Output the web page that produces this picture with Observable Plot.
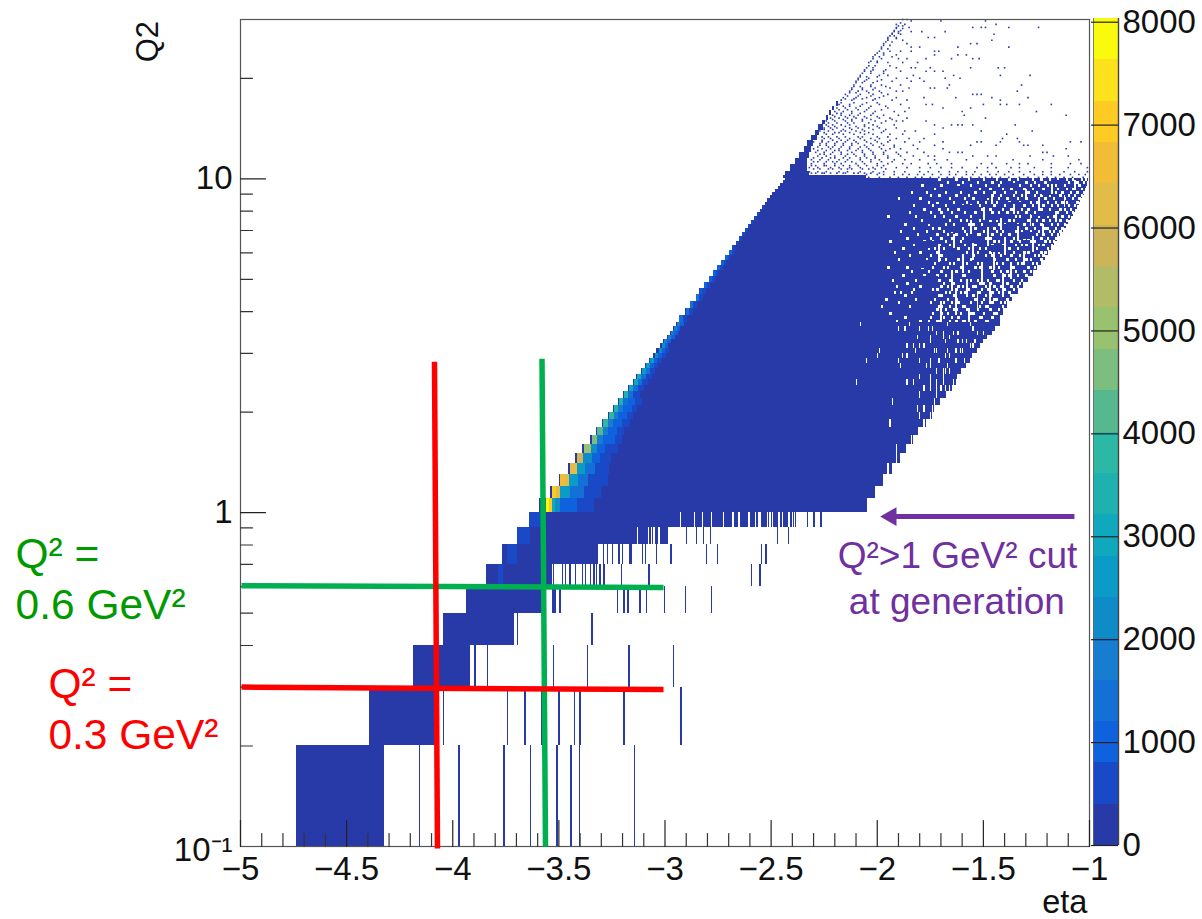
<!DOCTYPE html>
<html><head><meta charset="utf-8">
<script src="https://cdn.jsdelivr.net/npm/d3@7"></script>
<script src="https://cdn.jsdelivr.net/npm/@observablehq/plot@0.6"></script>
<style>html,body{margin:0;background:#fff;overflow:hidden}#c{position:relative;width:1202px;height:919px}#c svg{position:absolute;left:0;top:0;background:transparent}</style>
</head><body><div id="c"></div>
<script>
const FONT = "Liberation Sans";
// colour palette of the z axis
const bandEdges = [402,804,1205,1607,2009,2411,2813,3214,3616,4018,4420,4822,5223,5625,6027,6429,6831,7232,7634];
const bandColors = ["#283aa7","#1a49c8","#0f62dd","#1270d6","#167dd0","#0f8bc8","#0a9cc6","#10a8bc","#1fb0b0","#2db8a6","#55b88f","#7cbe80","#98c170","#b2bb65","#cdb458","#e2bc48","#f2bd36","#fdcb24","#fce21c","#fafa0c"];
const zMax = 8036;
const zTicks = [0,1000,2000,3000,4000,5000,6000,7000,8000];
const xMajor = [-5,-4.5,-4,-3.5,-3,-2.5,-2,-1.5,-1];
const xMinor = [-4.9,-4.8,-4.7,-4.6,-4.4,-4.3,-4.2,-4.1,-3.9,-3.8,-3.7,-3.6,-3.4,-3.3,-3.2,-3.1,-2.9,-2.8,-2.7,-2.6,-2.4,-2.3,-2.2,-2.1,-1.9,-1.8,-1.7,-1.6,-1.4,-1.3,-1.2,-1.1];
const yMajor = [1,10];
const yMinor = [0.2,0.3,0.4,0.5,0.6,0.7,0.8,0.9,2,3,4,5,6,7,8,9,20];

// filled body of the histogram: [Q2 low, Q2 high, eta*100 left, eta*100 right]
const bodyLow = [[.1,.2,-473.6,-432.2],[.2,.3,-439.2,-408.1],[.3,.4,-418.7,-391.6],[.4,.5,-404.4,-370.9],[.5,.6,-393.5,-357.7],[.6,.7,-384.1,-353],[.7,.8,-376.6,-331.3],[.8,.9,-369.7,-298.4],[.9,1,-364,-238]];
const bodyMid = [[1,1.1,-359.1,-204.6],[1.1,1.2,-353.9,-200.4],[1.2,1.3,-349.7,-197],[1.3,1.4,-345.5,-192.8],[1.4,1.5,-342.2,-189],[1.5,1.6,-338.9,-186.2],[1.6,1.7,-335.1,-182.5],[1.7,1.8,-332.3,-180.6],[1.8,1.9,-329.4,-176.8],[1.9,2,-326.6,-174],[2,2.1,-324.3,-173],[2.1,2.2,-321.9,-169.3],[2.2,2.3,-319.6,-167.4],[2.3,2.4,-317.2,-164.5],[2.4,2.5,-314.8,-162.7],[2.5,2.6,-313.4,-162.2],[2.6,2.7,-311.1,-160.3],[2.7,2.8,-309.2,-158],[2.8,2.9,-307.3,-156],[2.9,3,-305.4,-154.7],[3,3.1,-304,-152.8],[3.1,3.2,-302.1,-151.4],[3.2,3.3,-300.7,-150],[3.3,3.4,-298.8,-148],[3.4,3.5,-297.4,-145.7],[3.5,3.6,-296,-144.3],[3.6,3.7,-294.6,-142]];
const bodyHigh = [[3.7,3.9,-293.2,-142],[3.9,4.1,-290.3,-140.5],[4.1,4.3,-288,-138.6],[4.3,4.5,-285.2,-136.3],[4.5,4.7,-283.7,-133.5],[4.7,4.9,-281.4,-131.1],[4.9,5.1,-279,-128.8],[5.1,5.3,-277.1,-126.4],[5.3,5.5,-275.3,-124.5],[5.5,5.7,-273.4,-122.6],[5.7,5.9,-271.5,-120.8],[5.9,6.1,-269.6,-119.3],[6.1,6.3,-268.2,-117.9],[6.3,6.5,-266.3,-116.5],[6.5,6.7,-264.9,-115.1],[6.7,6.9,-263.5,-113.7],[6.9,7.1,-262.1,-112.3],[7.1,7.3,-260.7,-110.8],[7.3,7.5,-259.2,-109.8],[7.5,7.7,-257.8,-108.5],[7.7,7.9,-256.4,-107.5],[7.9,8.1,-255,-106.6],[8.1,8.3,-254,-105.6],[8.3,8.5,-252.7,-104.7],[8.5,8.7,-251.7,-104.3],[8.7,8.9,-250.3,-103.3],[8.9,9.1,-249.4,-102.4],[9.1,9.3,-247.9,-101.9],[9.3,9.5,-246.5,-101.4],[9.5,9.7,-245.6,-100.9],[9.7,9.9,-244.2,-100.5],[9.9,10,-243.2,-100]];
const bodyWedge = [[10,10.2,-244,-205],[10.2,10.5,-243,-232],[10.5,11,-241,-233],[11,11.5,-238.5,-233],[11.5,12,-236.5,-232],[12,12.5,-234.5,-231],[12.5,13,-233,-230],[13,13.5,-231,-228],[13.5,14,-229,-227],[14,14.5,-227.5,-225.5],[14.5,15,-226,-224.5],[15,15.5,-224,-223],[15.5,16,-222.5,-221.5],[16,16.5,-221,-220],[16.5,17,-219,-218.2]];

// the bright ridge on the left edge: [Q2 low, eta*100 from, eta*100 to, count]
const ridge = [
[.6,-378.6,-376.3,700],[.7,-374,-369.7,700],[.8,-369.7,-363.4,700],[.9,-364,-357.9,700],
[1,-356,-354.5,7900],[1,-354.5,-353,7000],[1,-353,-351.5,3200],[1,-351.5,-349,2200],[1,-349,-341,1200],[1,-341,-333,700],
[1.1,-353,-351,7000],[1.1,-351,-349,6400],[1.1,-349,-344.5,2800],[1.1,-344.5,-338,1300],[1.1,-338,-330,700],
[1.2,-349,-347,6500],[1.2,-347,-345,6200],[1.2,-345,-340.6,2700],[1.2,-340.6,-336,1300],[1.2,-336,-326.5,700],
[1.3,-344.5,-341,6200],[1.3,-341,-337.5,2600],[1.3,-337.5,-332.8,1300],[1.3,-332.8,-326,700],
[1.4,-341.4,-338.3,5800],[1.4,-338.3,-334.3,2300],[1.4,-334.3,-330.4,1200],[1.4,-330.4,-325,600],
[1.5,-338,-334.8,5200],[1.5,-334.8,-332,2200],[1.5,-332,-328,1200],[1.5,-328,-321.8,600],
[1.6,-334.3,-331.7,4600],[1.6,-331.7,-328.9,2000],[1.6,-328.9,-323.4,1100],[1.6,-323.4,-320.2,600],
[1.7,-331.7,-329.2,4300],[1.7,-329.2,-326.5,1900],[1.7,-326.5,-322.6,1100],[1.7,-322.6,-319.1,600],
[1.8,-328.9,-326.5,3900],[1.8,-326.5,-324.1,1800],[1.8,-324.1,-320.2,1000],[1.8,-320.2,-316.3,500],
[1.9,-326,-323.8,3700],[1.9,-323.8,-321.8,1700],[1.9,-321.8,-317.9,1000],[1.9,-317.9,-314.7,500],
[2,-323.8,-321.8,3500],[2,-321.8,-319.4,1700],[2,-319.4,-315.5,900],[2,-315.5,-313.1,500],
[2.1,-321.3,-319.4,3400],[2.1,-319.4,-317,1600],[2.1,-317,-313.9,900],[2.1,-313.9,-310.8,500],
[2.2,-319,-317,3300],[2.2,-317,-314.7,1500],[2.2,-314.7,-311.6,800],
[2.3,-316.8,-314.7,3200],[2.3,-314.7,-312.7,1500],[2.3,-312.7,-309.7,800],
[2.4,-314.4,-312.7,3000],[2.4,-312.7,-310.8,1400],[2.4,-310.8,-307.7,800],
[2.5,-312.8,-311.3,2900],[2.5,-311.3,-308.8,1300],[2.5,-308.8,-306,700],
[2.6,-310.6,-308.8,2800],[2.6,-308.8,-306.9,1300],[2.6,-306.9,-304.5,700],
[2.7,-308.8,-306.9,2600],[2.7,-306.9,-305,1200],[2.7,-305,-303,700],
[2.8,-306.7,-305,2500],[2.8,-305,-303.4,1200],[2.8,-303.4,-301.4,600],
[2.9,-304.7,-303,2400],[2.9,-303,-301.4,1100],[2.9,-301.4,-299.3,600],
[3,-302.8,-301.4,2200],[3,-301.4,-299.8,1100],[3,-299.8,-297.8,600],
[3.1,-301.2,-299.8,2100],[3.1,-299.8,-298.2,1000],
[3.2,-300.2,-298.7,2000],[3.2,-298.7,-297,1000],[3.3,-298.3,-296.8,1900],[3.3,-296.8,-295,1000],
[3.4,-297,-295.5,1800],[3.4,-295.5,-293.8,900],[3.5,-295.5,-294,1800],[3.5,-294,-292.5,900],
[3.6,-294.2,-292.8,1700],[3.6,-292.8,-291,900],[3.7,-293,-291.4,1600],[3.7,-291.4,-289.5,800],
[3.9,-290,-288.6,1500],[3.9,-288.6,-286.8,800],[4.1,-287.8,-286.4,1400],[4.1,-286.4,-284.8,800],
[4.3,-285,-283.6,1300],[4.3,-283.6,-282,800],[4.5,-283.5,-282.1,1200],[4.5,-282.1,-280.5,700],
[4.7,-281.2,-279.8,1200],[4.7,-279.8,-278.4,700],[4.9,-278.8,-277.4,1100],[4.9,-277.4,-276,700],
[5.1,-277,-275.6,1100],[5.1,-275.6,-274.4,600],[5.3,-275.2,-273.8,1000],[5.3,-273.8,-272.6,600],
[5.5,-273.3,-272,1000],[5.5,-272,-270.8,600],[5.7,-271.4,-270,900],[5.7,-270,-269,500],
[5.9,-269.5,-268.2,900],[5.9,-268.2,-267.2,500],[6.1,-268.1,-266.8,800],[6.3,-266.2,-265,800],
[6.5,-264.8,-263.6,800],[6.7,-263.4,-262.2,700],[6.9,-262,-260.8,700],[7.1,-260.6,-259.6,700],
[7.3,-259.1,-258.2,600],[7.5,-257.7,-256.8,600],[7.7,-256.3,-255.4,500],[7.9,-254.9,-254,500],[8.1,-253.9,-253,500]];

// isolated blue bins under Q2 = 1: [Q2 low, eta*100 ...]
const sticksBlue = [
[.1,-415.7,-397.2,-376,-363.4,-351,-344.3,-340.3,-314.4],
[.2,-404.5,-374.4,-366.1,-358.2,-350,-342.7,-340.2,-319.5,-292.8,-292.3],
[.3,-389.6,-383.8,-352.7,-336.7,-317,-296],
[.4,-369.5,-334.4],
[.5,-353.2,-352.4,-351.6,-349.6,-322.6,-319.5,-317.6,-312,-308.8,-300.3,-290.4,-278.2],
[.6,-352.7,-348.5,-346.9,-344.9,-342.2,-339,-337.5,-335.2,-333.5,-332.3,-330.7,-328.8,-320.5,-307.6,-259.3,-255.3],
[.7,-329,-327.2,-324.9,-321.8,-320.2,-316.7,-316,-310.8,-309.2,-304.2,-297.4,-280.5,-275.4,-254.7,-252.5],
[.8,-290,-285.2,-282,-278.6,-247,-242],
[.9,-232.9,-230,-226.7]];
// white gaps inside the body: [Q2 low, eta*100 ...]
const gapsLow = [
[.4,-370.5],
[.7,-330.5],
[.8,-313,-308,-306.5,-305.3,-302.9],
[.9,-292.7,-286.1,-282.5,-278.3,-272.6,-268,-265.2,-260.5,-257.4,-255.8,-255,-251.9,-250.6,-249.5,-246.4,-244.8,-241.7,-240,-239],
[1.1,-201],[1.3,-195],[1.4,-191],[1.5,-191],[1.6,-184,-183],[1.8,-194,-178],[1.9,-180,-175],
[2,-181,-178,-174],[2.1,-193,-173,-170],[2.2,-180,-172],[2.3,-178,-175,-172,-170,-168,-166],
[2.4,-210,-186,-183,-175,-172,-169,-164],[2.5,-180,-175,-169],[2.6,-172,-169,-168,-166],
[2.7,-189,-177,-175,-167],[2.8,-205,-190,-180,-175,-171,-163,-159],[2.9,-200,-188,-186,-168,-166,-155],
[3,-199,-182,-173,-172,-167,-163,-161,-160],[3.1,-186,-183,-180,-178,-156,-155],
[3.2,-175,-168,-162,-160,-158,-154],[3.3,-181,-175,-169,-166],[3.4,-172,-169,-164,-162,-153,-150],
[3.5,-190,-187,-180,-176,-174,-155],[3.6,-208,-185,-167,-156]];
// speckle of empty bins in the upper right of the body
const gapsHigh = [
[3.7,-191,-180,-176,-172,-171,-166,-163,-160,-159,-154,-149,-148],
[3.8,-187,-178,-175,-169,-165,-162,-157,-152,-151,-146],
[3.9,-194,-183,-174,-170,-167,-161,-156,-155,-150,-145,-144],
[4,-181,-177,-172,-168,-164,-163,-158,-153,-147,-143],
[4.1,-198,-185,-171,-170,-166,-160,-159,-152,-149,-148,-141],
[4.2,-190,-175,-169,-165,-162,-156,-151,-146,-142,-140],
[4.3,-196,-182,-173,-167,-163,-158,-157,-154,-150,-145,-144,-139],
[4.4,-187,-178,-171,-170,-164,-160,-155,-149,-147,-141,-137],
[4.5,-192,-189,-184,-176,-168,-166,-161,-159,-153,-152,-146,-143,-138],
[4.6,-183,-174,-172,-165,-163,-157,-151,-148,-144,-140,-136],
[4.7,-191,-180,-170,-167,-162,-160,-155,-154,-149,-145,-142,-137,-134],
[4.8,-186,-177,-173,-169,-164,-158,-152,-150,-147,-141,-139,-133],
[4.9,-193,-182,-175,-171,-166,-161,-156,-153,-148,-144,-143,-136,-132],
[5.05,-188,-178,-172,-168,-165,-160,-159,-151,-149,-145,-140,-138,-134,-130],
[5.2,-184,-176,-170,-163,-157,-155,-150,-146,-142,-139,-135,-131,-128],
[5.35,-195,-186,-179,-174,-169,-167,-161,-154,-152,-147,-143,-137,-136,-129,-126],
[5.5,-181,-173,-166,-164,-158,-153,-148,-144,-141,-134,-132,-127,-125],
[5.65,-190,-177,-171,-168,-162,-156,-151,-150,-145,-139,-135,-130,-128,-123],
[5.8,-185,-175,-170,-163,-160,-155,-149,-146,-142,-137,-133,-126,-124,-122],
[5.95,-192,-180,-172,-167,-165,-158,-153,-147,-143,-140,-136,-131,-129,-123,-121],
[6.1,-188,-176,-173,-169,-162,-157,-152,-149,-144,-138,-134,-127,-125,-120],
[6.25,-183,-171,-166,-164,-159,-154,-148,-146,-141,-135,-132,-130,-124,-122,-118],
[6.4,-194,-178,-174,-168,-161,-156,-151,-145,-143,-137,-133,-128,-126,-121,-119,-117],
[6.55,-186,-175,-170,-165,-160,-155,-149,-147,-140,-136,-131,-129,-123,-120,-116],
[6.7,-181,-172,-167,-163,-158,-153,-152,-146,-142,-138,-134,-127,-125,-122,-118,-115],
[6.85,-189,-177,-169,-165,-159,-156,-150,-144,-141,-135,-132,-128,-124,-119,-117,-114,-112],
[7,-183,-174,-171,-162,-160,-154,-148,-145,-139,-137,-130,-126,-121,-120,-116,-113],
[7.2,-187,-176,-168,-164,-157,-155,-151,-143,-140,-134,-131,-127,-123,-118,-115,-112,-110],
[7.4,-179,-172,-166,-161,-158,-152,-147,-144,-138,-136,-129,-125,-122,-119,-114,-111,-109],
[7.6,-195,-182,-173,-169,-163,-156,-150,-148,-142,-135,-133,-128,-124,-120,-117,-113,-110,-107],
[7.8,-185,-175,-170,-165,-159,-154,-146,-143,-139,-134,-130,-126,-121,-116,-115,-111,-108,-106],
[8,-178,-171,-167,-162,-157,-151,-147,-141,-137,-132,-129,-123,-119,-114,-112,-109,-105],
[8.2,-183,-174,-168,-160,-156,-152,-145,-140,-136,-131,-127,-122,-118,-115,-110,-107,-104],
[8.4,-176,-172,-164,-158,-153,-149,-144,-138,-133,-128,-125,-120,-116,-113,-111,-106,-104],
[8.6,-190,-180,-169,-166,-159,-155,-148,-143,-139,-134,-130,-124,-121,-117,-112,-108,-105,-103],
[8.8,-175,-171,-163,-157,-151,-146,-142,-136,-132,-126,-123,-119,-114,-110,-107,-104,-102],
[9,-184,-177,-168,-161,-154,-150,-145,-140,-135,-129,-125,-121,-116,-113,-109,-106,-103],
[9.2,-173,-165,-159,-152,-147,-141,-137,-131,-127,-122,-118,-115,-111,-108,-104,-102],
[9.4,-179,-170,-162,-156,-149,-143,-139,-133,-128,-124,-120,-116,-112,-107,-105,-101],
[9.6,-167,-160,-153,-146,-142,-136,-130,-126,-121,-117,-113,-110,-106,-103,-101],
[9.8,-171,-163,-157,-150,-144,-138,-134,-127,-123,-119,-115,-111,-108,-104,-102,-100.6]];
// filled clumps inside the speckle: [Q2 low, Q2 high, eta*100 left, eta*100 right]
const clumps = [[3.8,4.1,-183,-176],[4.3,4.7,-180,-174],[4.2,4.5,-161,-156],[4.8,5.1,-178,-171],[5,5.3,-155,-148],[5.4,5.7,-183,-175],[5.5,5.8,-152,-146],[5.8,6.1,-167,-160],[6,6.3,-146,-140],[6.2,6.5,-180,-173],[6.4,6.7,-157,-150],[6.6,6.9,-132,-126],[6.9,7.2,-168,-161],[7,7.3,-140,-133],[7.3,7.6,-178,-170],[7.5,7.8,-148,-141],[7.7,8,-125,-119],[8,8.3,-160,-153],[8.2,8.5,-138,-131],[8.5,8.8,-175,-167],[8.7,9,-153,-146],[8.9,9.2,-122,-116],[9.2,9.5,-165,-157],[9.4,9.7,-141,-134],[9.6,9.9,-118,-112]];
// vertical white streaks inside the speckle: [Q2 low, Q2 high, eta*100]
const streaks = [[3.7,4.3,-170],[3.9,4.6,-163],[3.7,4.1,-157],[4,4.5,-153],[4.2,4.8,-147],[4.4,5,-158],[4.5,5.2,-141],[4.7,5.3,-165],[4.8,5.6,-151],[5,5.6,-137],[5.2,5.9,-160],[5.3,6,-145],[5.5,6,-131],[5.6,6.3,-171],[5.7,6.4,-155],[5.9,6.6,-140],[6,6.7,-127],[6.2,6.8,-164],[6.3,7,-148],[6.5,7.2,-134],[6.7,7.3,-122],[6.8,7.5,-156],[7,7.6,-142],[7.2,7.8,-128],[7.4,8,-116],[7.5,8.2,-150],[7.8,8.4,-136],[8,8.6,-124],[8.2,8.9,-112],[8.4,9,-146],[8.7,9.3,-130],[9,9.6,-118],[9.2,9.9,-107]];
// scattered bins above Q2 = 10: [Q2, eta*100 ...]
const scatter = [
[30,-188,-186],[29.7,-170,-149,-184],[29,-191,-187,-144],[28.4,-191,-185,-155,-151,-149,-138,-124],
[27.6,-192,-190,-184,-179,-168],[27.1,-193,-145,-189],[26.5,-195,-191,-176,-173],[26,-195,-188,-146],
[25.4,-153,-156,-197,-186],[24.8,-162,-138,-198,-184,-180],[24.1,-199,-194,-173,-171,-184,-189],
[23.5,-201,-197,-173,-162,-158,-191],[22.9,-202,-198,-165,-155,-152,-186,-177,-190],[22.3,-204,-200,-195,-181,-188],
[21.5,-205,-202,-191,-182,-175,-156,-143,-140,-184],[21,-206,-203,-197,-177,-173,-169,-189],
[20.4,-208,-199,-195,-183,-142,-128,-164],[20,-209,-204,-191,-186,-168,-161,-180],[19.6,-210,-206,-200,-193,-184,-178],
[19.1,-211,-203,-198,-166,-132,-189],[18.7,-212,-207,-201,-194,-175,-173,-167,-185],[18.3,-213,-209,-205,-191,-134,-199,-188],
[17.9,-215,-208,-202,-195,-155,-151,-153],[17.5,-216,-210,-205,-199,-191,-178,-146,-163,-129],[17.2,-217,-212,-202,-193,-186,-142],
[16.7,-218,-213,-207,-199,-189,-142,-150,-139,-133,-174,-177,-118],[16.3,-219,-215,-210,-204,-195,-185,-169,-156],
[15.9,-220,-216,-212,-206,-201,-192,-187,-125,-160],[15.5,-221,-217,-213,-209,-203,-197,-190,-111,-159],
[15.2,-222,-218,-214,-210,-205,-199,-194,-186,-149],[14.9,-224,-220,-215,-212,-207,-201,-196,-191,-177,-188],
[14.5,-224,-221,-217,-213,-206,-202,-192,-135,-155,-162,-165,-160,-173],[14.2,-225,-222,-219,-213,-209,-204,-199,-191,-169],
[13.9,-227,-223,-217,-215,-210,-206,-197,-187,-182,-151,-127],[13.6,-228,-224,-221,-216,-211,-206,-202,-194,-188,-173,-139],
[13.2,-229,-225,-222,-218,-213,-208,-203,-199,-191,-185,-178,-141,-134],
[12.9,-230,-226,-223,-219,-215,-210,-205,-200,-195,-187,-180,-169,-153,-151,-142,-133,-109,-104],
[12.6,-231,-227,-224,-220,-216,-212,-206,-202,-197,-192,-183,-173,-122,-129,-131,-144,-156],
[12.3,-230,-226,-222,-218,-213,-209,-204,-198,-194,-189,-181,-169,-111],
[12,-229,-225,-221,-217,-212,-207,-202,-197,-191,-186,-178,-166,-162,-160,-120,-122],
[11.7,-228,-224,-220,-215,-210,-206,-201,-195,-189,-183,-176,-173,-155,-148,-144,-128,-117,-110],
[11.4,-231,-227,-223,-218,-214,-208,-203,-199,-192,-187,-180,-173,-167,-158,-136,-122,-105],
[11.1,-231,-225,-220,-217,-210,-206,-200,-195,-188,-184,-176,-172,-165,-151,-146,-139,-133,-129,-118,-109,-104],
[10.8,-232,-228,-222,-218,-213,-208,-202,-198,-191,-186,-180,-175,-170,-165,-160,-153,-148,-144,-137,-133,-126,-118,-110,-101],
[10.5,-232,-228,-224,-218,-214,-208,-202,-197,-192,-187,-180,-176,-171,-166,-162,-158,-154,-148,-143,-138,-133,-128,-122,-118,-112,-107,-101],
[10.3,-205,-200,-197,-192,-188,-185,-181,-178,-174,-170,-166,-163,-158,-155,-151,-147,-144,-140,-136,-131,-126,-122,-118,-114,-109,-105,-102],
[10.1,-204,-199,-194,-190,-186,-182,-179,-175,-171,-167,-164,-160,-156,-152,-149,-146,-142,-138,-133,-129,-124,-120,-116,-112,-108,-103]];
// the dense band of bins along the upper-left edge
const scatterEdge = [
[10.4,-231,-229,-226,-225,-222,-219,-216,-215,-211,-209,-206,-203,-199],[10.7,-230,-227,-223,-221,-217,-214,-212,-207,-204,-201,-196],
[10.95,-231,-229,-225,-224,-220,-216,-213,-209,-205,-200,-197],[11.25,-230,-228,-224,-221,-219,-215,-212,-207,-203,-198,-193],
[11.55,-230,-226,-222,-220,-216,-213,-208,-205,-201,-195],[11.85,-227,-225,-222,-217,-214,-211,-206,-202,-197,-190],
[12.15,-228,-224,-220,-218,-214,-210,-207,-203,-196],[12.45,-228,-223,-221,-217,-213,-208,-205,-199,-192],
[12.75,-227,-224,-220,-216,-212,-209,-203,-198],[13.05,-226,-221,-217,-214,-211,-206,-201,-194],
[13.35,-226,-223,-219,-215,-209,-207,-200,-195],[13.75,-225,-220,-218,-213,-208,-204,-198],
[14.05,-225,-221,-216,-212,-207,-202,-196],[14.35,-223,-220,-215,-210,-206,-200],[14.7,-223,-219,-214,-211,-204,-198],
[15.05,-221,-216,-212,-207,-203,-193],[15.35,-220,-215,-211,-206,-200],[15.7,-219,-217,-212,-208,-202],[16.1,-218,-214,-209,-205,-198],
[16.5,-216,-213,-208,-203,-196],[16.9,-217,-211,-205,-200],[17.35,-215,-211,-207,-201],[17.7,-214,-209,-203,-197],[18.1,-213,-210,-204,-198],
[18.5,-212,-207,-202],[18.9,-211,-208,-203,-196],[19.4,-210,-207,-202],[19.8,-209,-205,-198],[20.2,-208,-205,-200],[20.7,-207,-203,-197],
[21.2,-206,-202,-196],[21.8,-204,-201,-194],[22.5,-203,-200],[23.2,-202,-199,-193],[23.8,-200,-197],[24.5,-198,-195],[25.1,-197,-194],
[25.7,-196,-193],[26.3,-195,-191],[26.8,-194,-192],[27.3,-193,-190],[27.8,-192,-189],[28.2,-191,-188],[28.7,-190,-188],[29.3,-189]];

// annotation lines drawn over the histogram
const greenV = {x1:-3.5795,y1:2.89,x2:-3.563,y2:.1}, redV = {x1:-4.086,y1:2.83,x2:-4.072,y2:.0987};
const greenH = {x1:-4.995,y1:.6045,x2:-3.007,y2:.5964}, redH = {x1:-4.995,y1:.3003,x2:-3.007,y2:.2951};
const arrowStem = {x1:-1.071,y1:.973,x2:-1.92,y2:.973}, arrowHead = {x:-1.935,y:.973};
const notesLeft = [
 {x:-6.06,y:.684,t:"Q² =",c:"#009a00"},{x:-6.06,y:.4816,t:"0.6 GeV²",c:"#009a00"},
 {x:-5.905,y:.2794,t:"Q² =",c:"#ff0000"},{x:-5.905,y:.1965,t:"0.3 GeV²",c:"#ff0000"}];
const notesRight = [
 {x:-1.622,y:.684,t:"Q²>1 GeV² cut"},{x:-1.625,y:.4985,t:"at generation"}];

const colorOpts = {type:"threshold",domain:bandEdges,range:bandColors};
const tickShape = {draw(c,l){c.moveTo(0,0);c.lineTo(0,-l);}};
const toE = e => e/100;
const toCell = ([lo,hi,l,r])=>({lo,hi,l:toE(l),r:toE(r),c:100});
const bodyAll = [...bodyLow,...bodyMid,...bodyHigh,...bodyWedge].map(toCell);
const ridgeCells = ridge.map(([q,a,b,c])=>({lo:q,hi:q+(q<3.7?.1:.2),l:toE(a),r:toE(b),c}));
const flat = (rows,w,h) => rows.flatMap(([q,...es])=>es.map(e=>({lo:q,hi:h(q),l:toE(e),r:toE(e+w),c:100})));
const sticks = flat(sticksBlue,.7,q=>q+.1);
const gaps = [...flat(gapsLow,.6,q=>q+.1),...flat(gapsHigh,1.1,q=>q*1.02)];
const clumpCells = clumps.map(toCell);
const streakCells = streaks.map(([lo,hi,e])=>toCell([lo,hi,e,e+.9]));
const dots = [...scatter,...scatterEdge].flatMap(([q,...es])=>es.map(e=>({x:toE(e),y:q})));
const rectOpts = {x1:"l",x2:"r",y1:"lo",y2:"hi",shapeRendering:"crispEdges"};

const main = Plot.plot({
  width:1202,height:919,marginLeft:240,marginRight:113,marginTop:19,marginBottom:73,
  style:{fontFamily:FONT,background:"transparent",overflow:"visible"},
  x:{domain:[-5,-1]},
  y:{type:"log",domain:[.1,30]},
  color:colorOpts,
  marks:[
    Plot.rect(bodyAll,{...rectOpts,fill:"c"}),
    Plot.rect(ridgeCells,{...rectOpts,fill:"c"}),
    Plot.rect(sticks,{...rectOpts,fill:"c"}),
    Plot.rect(gaps,{...rectOpts,fill:"white"}),
    Plot.rect(clumpCells,{...rectOpts,fill:"c"}),
    Plot.rect(streakCells,{...rectOpts,fill:"white"}),
    Plot.dot(dots,{x:"x",y:"y",r:.9,symbol:"square",fill:bandColors[0]}),
    Plot.frame({stroke:"#555",strokeWidth:1.2}),
    Plot.vector(xMajor,{x:d=>d,y:()=>.1,length:26,rotate:0,anchor:"start",shape:tickShape,stroke:"#222",strokeWidth:1.2}),
    Plot.vector(xMinor,{x:d=>d,y:()=>.1,length:13,rotate:0,anchor:"start",shape:tickShape,stroke:"#333",strokeWidth:1.2}),
    Plot.vector(yMajor,{x:()=>-5,y:d=>d,length:25,rotate:90,anchor:"start",shape:tickShape,stroke:"#222",strokeWidth:1.2}),
    Plot.vector(yMinor,{x:()=>-5,y:d=>d,length:12,rotate:90,anchor:"start",shape:tickShape,stroke:"#333",strokeWidth:1.2}),
    Plot.axisX({ticks:xMajor,tickSize:0,tickPadding:10,label:null,fontSize:33,tickFormat:d3.format("~g"),fill:"#111"}),
    Plot.axisY({ticks:yMajor,tickSize:0,tickPadding:8,label:null,fontSize:33,tickFormat:d=>String(d),fill:"#111"}),
    Plot.axisY({ticks:[.1],tickSize:0,tickPadding:8,dy:4,label:null,fontSize:33,tickFormat:()=>"10⁻¹",fill:"#111"}),
    Plot.text(["eta"],{x:()=>-1.01,y:()=>.063,textAnchor:"end",lineAnchor:"bottom",fontSize:32.5,fill:"#111"}),
    Plot.text(["Q2"],{x:()=>-5.391,y:()=>29.7,rotate:-90,textAnchor:"end",lineAnchor:"bottom",fontSize:31,fill:"#111"}),
    Plot.link([greenV,greenH],{x1:"x1",y1:"y1",x2:"x2",y2:"y2",stroke:"#00b050",strokeWidth:5.5}),
    Plot.link([redV,redH],{x1:"x1",y1:"y1",x2:"x2",y2:"y2",stroke:"#ff0000",strokeWidth:5.5}),
    Plot.link([arrowStem],{x1:"x1",y1:"y1",x2:"x2",y2:"y2",stroke:"#7030a0",strokeWidth:5}),
    Plot.dot([arrowHead],{x:"x",y:"y",symbol:"triangle2",rotate:-90,r:9,fill:"#7030a0"}),
    Plot.text(notesLeft,{x:"x",y:"y",text:"t",fill:"c",fontSize:42.5,textAnchor:"start",lineAnchor:"bottom"}),
    Plot.text(notesRight,{x:"x",y:"y",text:"t",fill:"#7030a0",fontSize:37,textAnchor:"middle",lineAnchor:"bottom"})
  ]
});

const bandLo = [0,...bandEdges];
const bandHi = [...bandEdges,zMax];
const barCells = bandLo.map((lo,i)=>({lo,hi:bandHi[i],c:lo+1}));
const bar = Plot.plot({
  width:1202,height:919,marginLeft:1093,marginRight:84,marginTop:18,marginBottom:74,
  style:{fontFamily:FONT,background:"transparent",overflow:"visible"},
  x:{axis:null,domain:[0,1]},
  y:{domain:[0,zMax]},
  color:colorOpts,
  marks:[
    Plot.rect(barCells,{x1:()=>0,x2:()=>1,y1:"lo",y2:"hi",fill:"c",shapeRendering:"crispEdges"}),
    Plot.ruleX([1],{stroke:"#444",strokeWidth:1.4}),
    Plot.ruleX([0],{stroke:"#666",strokeWidth:.8}),
    Plot.ruleY(zTicks,{stroke:"#222",strokeWidth:1.2,insetLeft:-2}),
    Plot.axisY({anchor:"right",ticks:zTicks,tickSize:0,tickPadding:4,label:null,fontSize:33,tickFormat:d=>String(d),fill:"#111"})
  ]
});
const host = document.getElementById("c");
host.append(main,bar);
</script></body></html>
